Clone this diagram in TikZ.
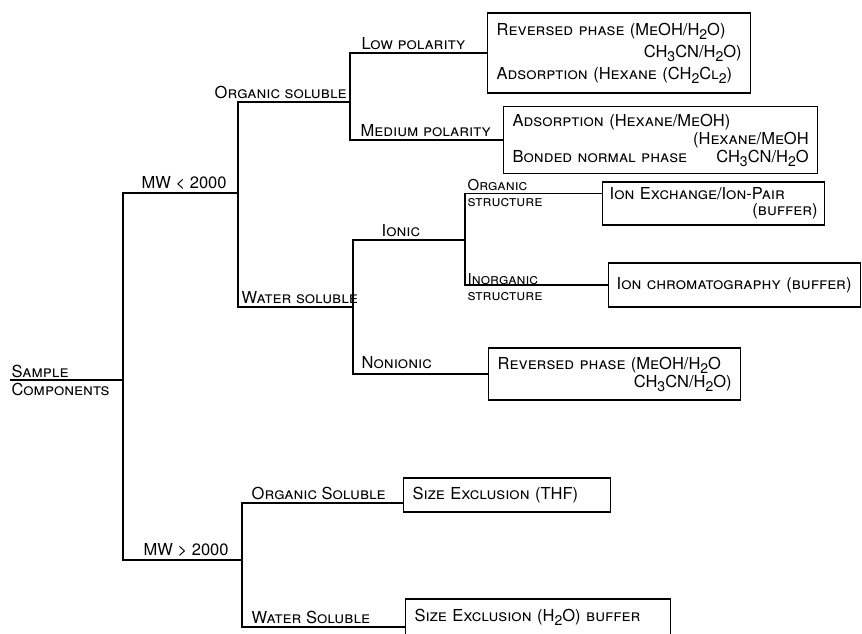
\documentclass[tikz,border=0pt]{standalone}
\usepackage{fontspec}
\setmainfont{TeX Gyre Heros}
\usepackage{tikz}
\usetikzlibrary{positioning}
\newcommand{\lowsub}[1]{\raisebox{-0.45ex}{\fontsize{14}{14}\selectfont #1}}

\begin{document}
\begin{tikzpicture}[x=1pt,y=-1pt,line width=1.4pt,font=\fontsize{16.5}{18}\selectfont\scshape,
  lbl/.style={inner sep=1pt,anchor=south west},
  res/.style={draw,anchor=west,align=left,inner xsep=9pt,inner ysep=2pt}]
\useasboundingbox (0,0) rectangle (862,633);
\coordinate (root) at (10,380);
\coordinate (j0) at (123,380);
\coordinate (j1) at (238,193);
\coordinate (j2) at (242,560);
\coordinate (j3) at (350,102);
\coordinate (j4) at (353,307);
\coordinate (j5) at (465,240);
\node[res,text width=245pt,minimum height=80pt,font=\fontsize{16.5}{22}\selectfont\scshape] (rp1) at (487,53)
  {Reversed phase (MeOH/H\lowsub{2}O)\\ \mbox{}\hfill CH\lowsub{3}CN/H\lowsub{2}O)\\ Adsorption (Hexane (CH\lowsub{2}Cl\lowsub{2})};
\node[res,text width=296pt,minimum height=67pt] (ads) at (503,140)
  {Adsorption (Hexane/MeOH)\\ \mbox{}\hfill(Hexane/MeOH\\ Bonded normal phase\hfill CH\lowsub{3}CN/H\lowsub{2}O\hspace*{14pt}};
\node[res,text width=208pt,inner xsep=7pt,minimum height=43pt,font=\fontsize{16.5}{16}\selectfont\scshape] (iex) at (602,203.5)
  {Ion Exchange/Ion-Pair\\ \mbox{}\hfill(buffer)};
\node[res,text width=236pt,inner xsep=8pt,minimum height=44pt] (ich) at (608,285) {Ion chromatography (buffer)};
\node[res,text width=234pt,minimum height=52pt] (rp2) at (488,374)
  {Reversed phase (MeOH/H\lowsub{2}O\\ \mbox{}\hfill CH\lowsub{3}CN/H\lowsub{2}O)};
\node[res,text width=189pt,minimum height=34pt] (sec1) at (403,495) {Size Exclusion (THF)};
\node[res,text width=247pt,minimum height=36pt] (sec2) at (405,617) {Size Exclusion (H\lowsub{2}O) buffer};
\node[inner sep=0pt,anchor=west,align=left] (samp) at (11,380) {Sample\\Components};
\node[lbl] (mwlo) at (140,191) {MW < 2000};
\node[lbl] (mwhi) at (142,558) {MW > 2000};
\node[lbl] (orgsol) at (213,100) {Organic soluble};
\node[lbl] (watsol) at (240,305) {Water soluble};
\node[lbl] (lowpol) at (360,51) {Low polarity};
\node[lbl] (medpol) at (359,138) {Medium polarity};
\node[lbl] (ionic) at (380,238) {Ionic};
\node[lbl] (nonion) at (360,370) {Nonionic};
\node[inner sep=0pt,anchor=west,align=left,font=\fontsize{15}{16}\selectfont\scshape] (orgstr) at (467,193) {Organic\\structure};
\node[inner sep=0pt,anchor=west,align=left,font=\fontsize{15}{16}\selectfont\scshape] (inostr) at (467,287) {Inorganic\\structure};
\node[lbl] (orgsol2) at (250,501) {Organic Soluble};
\node[lbl] (watsol2) at (250,625) {Water Soluble};
\draw (root) -- (j0);
\draw (j1) -| (j0) |- (j2);
\draw (j3) -| (j1) |- (j4);
\draw (rp1.west) -| (j3) |- (ads.west);
\draw (j5) -| (j4) |- (rp2.west);
\draw ([yshift=10pt]iex.west) -| (j5) |- (ich.west);
\draw ([yshift=-8pt]sec1.west) -| (j2) |- ([yshift=-10pt]sec2.west);
\end{tikzpicture}
\end{document}
